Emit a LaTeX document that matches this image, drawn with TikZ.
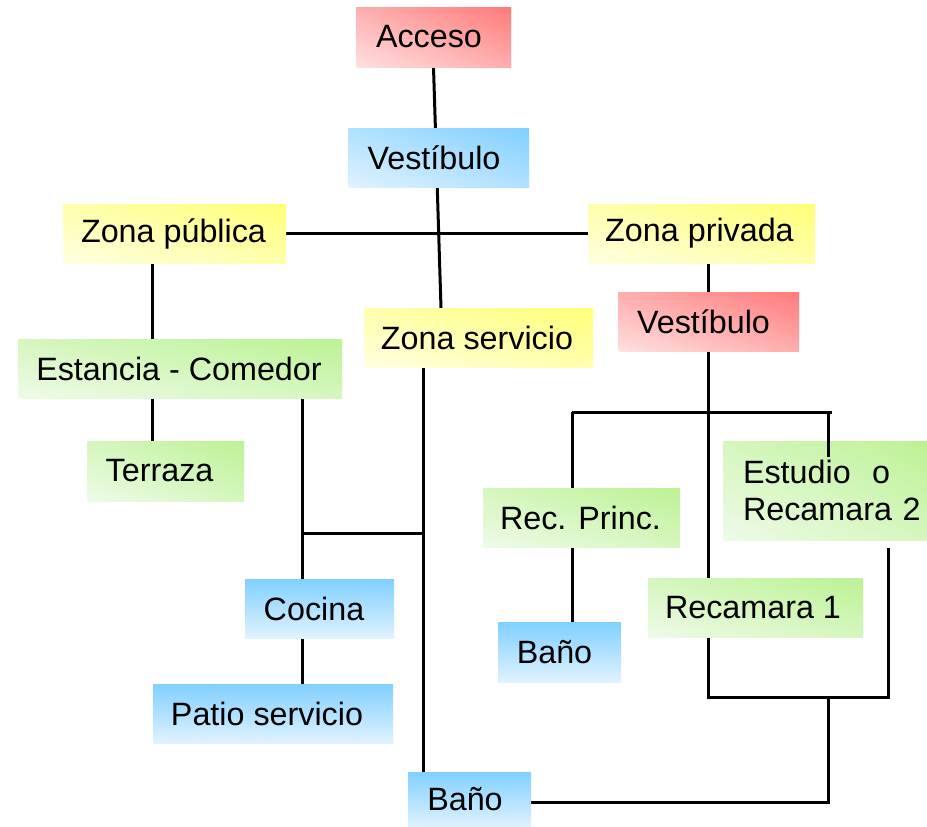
\documentclass[tikz,border=0pt]{standalone}
\usepackage{fontspec}
\setmainfont{Liberation Sans}
\usetikzlibrary{calc}
\pgfdeclarelayer{bg}
\pgfsetlayers{bg,main}
\definecolor{redS}{RGB}{255,122,122}
\definecolor{redL}{RGB}{255,224,224}
\definecolor{bluS}{RGB}{128,208,255}
\definecolor{bluL}{RGB}{224,242,255}
\definecolor{yelS}{RGB}{255,255,120}
\definecolor{yelL}{RGB}{255,255,224}
\definecolor{grnS}{RGB}{188,242,148}
\definecolor{grnL}{RGB}{238,251,232}
\tikzset{
  diagbox/.style n args={4}{rectangle, inner sep=0pt, minimum width=#1, minimum height=#2,
    path picture={
      \foreach \k in {0,...,47}{
        \path let \p1=(path picture bounding box.south west),
                  \p2=(path picture bounding box.north east),
                  \n1={sign(\y2-\y1)},
                  \n2={2*\k/48+3},
                  \n3={2*(\k+1.4)/48+3},
                  \n4={100*(\k+0.5)/48},
                  \n5={#1},
                  \n6={#2}
              in [fill=#3!\n4!#4]
              (\x1+\n2*\n5, \y1-\n1*3*\n6) -- (\x1-3*\n5, \y1+\n1*\n2*\n6)
              -- (\x1-3*\n5, \y1+\n1*\n3*\n6) -- (\x1+\n3*\n5, \y1-\n1*3*\n6) -- cycle;
      }
    }},
  redbox/.style 2 args={diagbox={#1}{#2}{redS}{redL}},
  yelbox/.style 2 args={diagbox={#1}{#2}{yelS}{yelL}},
  grnbox/.style 2 args={diagbox={#1}{#2}{grnS}{grnL}},
  bludiag/.style 2 args={diagbox={#1}{#2}{bluS}{bluL}},
  bluvert/.style 2 args={rectangle, inner sep=0pt, minimum width=#1, minimum height=#2, top color=bluS, bottom color=bluL},
  conn/.style={line width=3pt, black}
}
\begin{document}
\begin{tikzpicture}[x=1pt, y=-1pt, font=\fontsize{32.3}{36}\selectfont]
\useasboundingbox (0,0) rectangle (927,827);
% boxes
\node[redbox={155pt}{60pt}] (acc) at (433.5,37) {Acceso\kern9pt};
\node[bludiag={181pt}{59pt}] (vest1) at (438.5,157.5) {Vestíbulo\kern9pt};
\node[yelbox={223pt}{59pt}] (zpub) at (174.5,233.5) {Zona pública\kern2pt};
\node[yelbox={227pt}{59pt}] (zpriv) at (701.5,233.5) {Zona privada\kern4pt};
\node[yelbox={229pt}{59pt}] (zserv) at (478.5,337.5) {Zona servicio\kern3pt};
\node[redbox={181pt}{59pt}] (vest2) at (708.5,321.5) {Vestíbulo\kern10pt};
\node[grnbox={324pt}{59pt}] (est) at (180,368.5) {Estancia - Comedor\kern2pt};
\node[grnbox={157pt}{60pt}] (terr) at (165.5,471) {Terraza\kern12pt};
\node[grnbox={197pt}{59pt}] (recp) at (581.5,517.5) {Rec. Princ.\kern2pt};
\node[grnbox={204pt}{99pt}, text width=204pt, align=left, font=\fontsize{32.3}{36.5}\selectfont] (estud) at (825,490.5) {\hspace*{20pt}Estudio\ \ o\\\hspace*{20pt}Recamara 2};
\node[grnbox={215pt}{59pt}] (rec1) at (755.5,607.5) {Recamara 1\kern5pt};
\node[bluvert={149pt}{59pt}] (coc) at (319.5,608.5) {Cocina\kern11pt};
\node[bluvert={123pt}{60pt}] (bano1) at (559.5,652) {Baño\kern10pt};
\node[bluvert={240pt}{59pt}] (patio) at (273,713.5) {Patio servicio\kern12pt};
\node[bluvert={123pt}{55pt}] (bano2) at (469.5,799.5) {Baño\kern9pt};
% junction coordinates
\coordinate (xA) at (152,0);
\coordinate (xB) at (302,0);
\coordinate (xC) at (423,0);
\coordinate (xD) at (708,0);
\coordinate (xE) at (572,0);
\coordinate (j1) at (302,533);
\coordinate (j1b) at (423,533);
\coordinate (j2a) at (572,412);
\coordinate (j2b) at (832,412);
\coordinate (j2c) at (828,412);
\coordinate (j2d) at (828,457);
\coordinate (j3a) at (888,697);
\coordinate (j3b) at (888,548);
\coordinate (j3c) at (828,697);
\coordinate (j4) at (828,802);
\begin{pgfonlayer}{bg}
\draw[conn] (acc.south) -- ([xshift=-37.5pt]zserv.north);
\draw[conn] (zpub.east) -- (zpriv.west);
\draw[conn] (zpub.south -| xA) -- (est.north -| xA);
\draw[conn] (est.south -| xA) -- (terr.north -| xA);
\draw[conn] (est.south -| xB) -- (coc.north -| xB);
\draw[conn] (coc.south -| xB) -- (patio.north -| xB);
\draw[conn] (zserv.south -| xC) -- (bano2.north -| xC);
\draw[conn] (j1) -- (j1b);
\draw[conn] (zpriv.south -| xD) -- (vest2.north -| xD);
\draw[conn] (vest2.south -| xD) -- (rec1.north -| xD);
\draw[conn] (j2a) -- (j2b);
\draw[conn] (j2a) -- (recp.north -| xE);
\draw[conn] (recp.south -| xE) -- (bano1.north -| xE);
\draw[conn] (rec1.south -| xD) |- (j3a) -- (j3b);
\draw[conn] (j3c) -- (j4) -- (bano2.east |- j4);
\end{pgfonlayer}
\draw[conn] (j2c) -- (j2d);
\end{tikzpicture}
\end{document}
